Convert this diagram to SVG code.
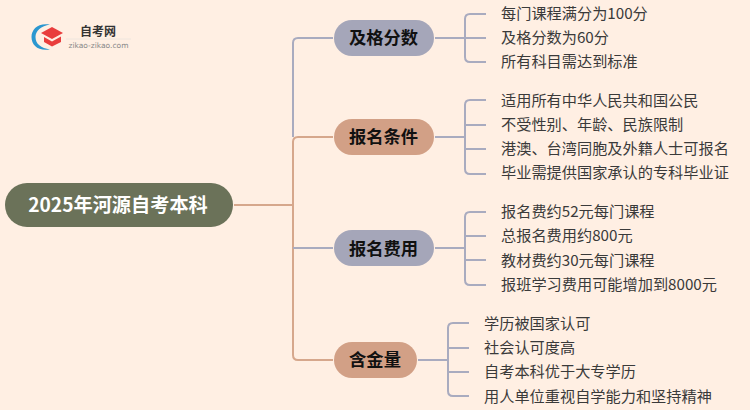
<svg xmlns="http://www.w3.org/2000/svg" width="750" height="410" viewBox="0 0 750 410">
<style>
text{font-family:"Noto Sans CJK SC","Noto Sans",sans-serif}
.l{fill:none;stroke-width:2}
.b{stroke:#a9abbf}
.o{stroke:#d6a78c}
.t{font-size:15.200px;fill:#3a3a3a;dominant-baseline:central}
.h{font-size:17.300px;font-weight:700;fill:#111;text-anchor:middle;dominant-baseline:central}
</style>
<rect width="750" height="410" fill="#ffefe3"/>
<g id="connectors">
<path class="l o" d="M234 205H293"/>
<path class="l b" d="M333 38H298Q293 38 293 43V137"/>
<path class="l o" d="M333 137H298Q293 137 293 142V355Q293 360 298 360H333"/>
<path class="l b" d="M293 248H333"/>
<path class="l b" d="M435 38H465M486 14H470Q465 14 465 19V57Q465 62 470 62H486M465 38H486"/>
<path class="l b" d="M435 137H465M486 100H470Q465 100 465 105V169Q465 174 470 174H486M465 125H486M465 149H486"/>
<path class="l b" d="M435 248H465M486 212H470Q465 212 465 217V280Q465 285 470 285H486M465 236H486M465 260H486"/>
<path class="l b" d="M418 360H448M469 323H453Q448 323 448 328V391Q448 396 453 396H469M448 348H469M448 372H469"/>
</g>
<g id="logo">
<path d="M50 24.500C38 22.500 31.500 29 31.500 37C31.500 45 38 51.500 50 49.500C41 48 35.500 44 35.500 37C35.500 31 41 26 50 24.500Z" fill="#2b97d0"/>
<path d="M52 27L63 33L52 39L41 33Z" fill="#e93d3d"/>
<path d="M44 37L52 41.500L61 36.500V42L52 46.500L44 42Z" fill="#e93d3d"/>
<text x="98" y="30" font-size="12" font-weight="700" fill="#333" text-anchor="middle" dominant-baseline="central">自考网</text>
<path d="M66 39H131" stroke="#efe6de"/>
<text x="98.500" y="45" font-size="7.500" fill="#888" text-anchor="middle" dominant-baseline="central" style="font-family:'DejaVu Sans',sans-serif">zikao-zikao.com</text>
</g>
<g id="root">
<rect x="5" y="183" width="228" height="44" rx="22" fill="#6b7259"/>
<text x="118" y="203.500" font-size="19.200" font-weight="700" fill="#fff" text-anchor="middle" dominant-baseline="central">2025年河源自考本科</text>
</g>
<g id="n1"><rect x="334" y="20" width="100" height="36" rx="18" fill="#a5a6b9"/><text class="h" x="383.500" y="36.500">及格分数</text></g>
<g id="n2"><rect x="334" y="119" width="100" height="36" rx="18" fill="#d2a086"/><text class="h" x="383.500" y="135.500">报名条件</text></g>
<g id="n3"><rect x="334" y="230" width="100" height="36" rx="18" fill="#a5a6b9"/><text class="h" x="383.500" y="247">报名费用</text></g>
<g id="n4"><rect x="334" y="342" width="83" height="36" rx="18" fill="#d2a086"/><text class="h" x="375" y="358.500">含金量</text></g>
<g id="leaf1"><text class="t" x="501" y="11.500">每门课程满分为100分</text></g>
<g id="leaf2"><text class="t" x="501" y="35.500">及格分数为60分</text></g>
<g id="leaf3"><text class="t" x="501" y="59.500">所有科目需达到标准</text></g>
<g id="leaf4"><text class="t" x="501" y="98.500">适用所有中华人民共和国公民</text></g>
<g id="leaf5"><text class="t" x="501" y="122.500">不受性别、年龄、民族限制</text></g>
<g id="leaf6"><text class="t" x="501" y="146.500">港澳、台湾同胞及外籍人士可报名</text></g>
<g id="leaf7"><text class="t" x="501" y="170.500">毕业需提供国家承认的专科毕业证</text></g>
<g id="leaf8"><text class="t" x="501" y="209.500">报名费约52元每门课程</text></g>
<g id="leaf9"><text class="t" x="501" y="233.500">总报名费用约800元</text></g>
<g id="leaf10"><text class="t" x="501" y="258.500">教材费约30元每门课程</text></g>
<g id="leaf11"><text class="t" x="501" y="282.500">报班学习费用可能增加到8000元</text></g>
<g id="leaf12"><text class="t" x="484" y="321.500">学历被国家认可</text></g>
<g id="leaf13"><text class="t" x="484" y="345.500">社会认可度高</text></g>
<g id="leaf14"><text class="t" x="484" y="369.500">自考本科优于大专学历</text></g>
<g id="leaf15"><text class="t" x="484" y="394.500">用人单位重视自学能力和坚持精神</text></g>
</svg>
